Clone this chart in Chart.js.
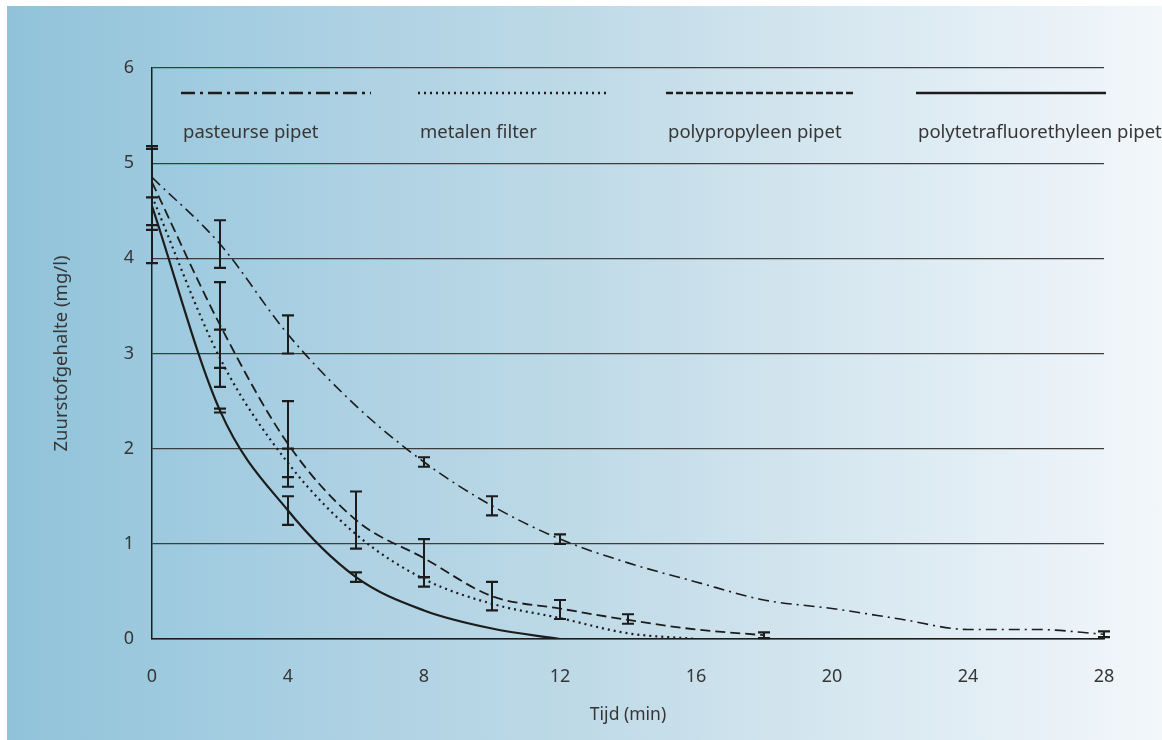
<!DOCTYPE html>
<html lang="nl">

<head>
    <meta charset="UTF-8" />
    <title>Zuurstofgehalte</title>
    <script src="https://cdn.jsdelivr.net/npm/chart.js@4.4.1/dist/chart.umd.min.js"></script>
    <style>
        html, body { margin: 0; padding: 0; background: #ffffff; }
        .panel {
            position: absolute; left: 7px; top: 6px; width: 1155px; height: 734px;
            background: linear-gradient(to right, #90c3da 0%, #a9cfe2 25%, #bfdae7 50%, #d6e7f0 72%, #e8f1f7 90%, #f3f7fa 100%);
        }
        #chart { position: absolute; left: 0; top: 0; }
    </style>
</head>

<body>
    <div class="panel"></div>
    <canvas id="chart" width="1162" height="740"></canvas>

<script>
    // tijd in minuten
    const tPasteur = [0, 2, 4, 6, 8, 10, 12, 14, 16, 18, 20, 22, 24, 26, 28];
    const tMetaal = [0, 2, 4, 6, 8, 10, 12, 14, 16];
    const tPolyprop = [0, 2, 4, 6, 8, 10, 12, 14, 16, 18];
    const tPtfe = [0, 2, 4, 6, 8, 10, 12];

    // zuurstofgehalte (mg/l)
    const pasteurse = [4.85, 4.15, 3.2, 2.45, 1.86, 1.4, 1.05, 0.8, 0.6, 0.41, 0.32, 0.21, 0.1, 0.1, 0.05];
    const metalen = [4.65, 2.95, 1.85, 1.1, 0.63, 0.37, 0.22, 0.06, 0.0];
    const polyprop = [4.8, 3.3, 2.05, 1.25, 0.85, 0.45, 0.32, 0.2, 0.1, 0.04];
    const ptfe = [4.55, 2.4, 1.35, 0.65, 0.3, 0.11, 0.0];

    // foutbalken: [tijd, laag, hoog]
    const errPasteur = [[0, 4.64, 5.18], [2, 3.9, 4.4], [4, 3.0, 3.4], [8, 1.81, 1.91], [10, 1.3, 1.5], [12, 1.0, 1.1], [28, 0.02, 0.08]];
    const errMetaal = [[2, 2.65, 3.25], [4, 1.7, 2.0], [8, 0.55, 0.65]];
    const errPolyprop = [[0, 4.3, 5.15], [2, 2.85, 3.75], [4, 1.6, 2.5], [6, 0.95, 1.55], [8, 0.65, 1.05], [10, 0.3, 0.6], [12, 0.21, 0.41], [14, 0.16, 0.26], [18, 0.01, 0.07]];
    const errPtfe = [[0, 3.95, 4.35], [2, 2.38, 2.42], [4, 1.2, 1.5], [6, 0.6, 0.7]];

    const labels = ['pasteurse pipet', 'metalen filter', 'polypropyleen pipet', 'polytetrafluorethyleen pipet'];
    const xTicks = [0, 4, 8, 12, 16, 20, 24, 28];
    const yTicks = [0, 1, 2, 3, 4, 5, 6];

    const ink = '#1c1c1c';
    const textColor = '#363636';
    const fontFamily = "'Noto Sans', 'Open Sans', sans-serif";

    function pts(ts, vs) {
        return ts.map((t, i) => ({ x: t, y: vs[i] }));
    }

    // dash patronen: grafiek / legenda
    const styles = [
        { dash: [11, 5, 2, 5], legendDash: [14, 5, 3, 5], width: 1.6 },
        { dash: [2, 4], legendDash: [2, 4], width: 2.2 },
        { dash: [10, 5], legendDash: [7, 3], width: 1.8 },
        { dash: [], legendDash: [], width: 2.2 }
    ];

    const series = [pts(tPasteur, pasteurse), pts(tMetaal, metalen), pts(tPolyprop, polyprop), pts(tPtfe, ptfe)];
    const errors = [errPasteur, errMetaal, errPolyprop, errPtfe];

    // foutbalken tekenen
    const errorBars = {
        id: 'errorBars',
        afterDatasetsDraw(chart) {
            const { ctx, scales: { x, y } } = chart;
            ctx.save();
            ctx.strokeStyle = ink;
            ctx.setLineDash([]);
            errors.forEach(list => {
                list.forEach(([t, lo, hi]) => {
                    const px = x.getPixelForValue(t);
                    const yl = y.getPixelForValue(lo);
                    const yh = y.getPixelForValue(hi);
                    ctx.lineWidth = 2;
                    ctx.beginPath();
                    ctx.moveTo(px, yl);
                    ctx.lineTo(px, yh);
                    ctx.stroke();
                    ctx.lineWidth = 2.2;
                    ctx.beginPath();
                    ctx.moveTo(px - 6, yl);
                    ctx.lineTo(px + 6, yl);
                    ctx.moveTo(px - 6, yh);
                    ctx.lineTo(px + 6, yh);
                    ctx.stroke();
                });
            });
            ctx.restore();
        }
    };

    // legenda: lijnstuk met tekst eronder
    const lineLegend = {
        id: 'lineLegend',
        afterDraw(chart) {
            const { ctx } = chart;
            const starts = [181, 418, 666, 916];
            const len = 190;
            ctx.save();
            chart.data.datasets.forEach((ds, i) => {
                const sx = starts[i];
                ctx.strokeStyle = ink;
                ctx.lineWidth = i === 1 ? 2.6 : 2.4;
                ctx.lineCap = 'butt';
                ctx.setLineDash(styles[i].legendDash);
                ctx.beginPath();
                ctx.moveTo(sx, 93);
                ctx.lineTo(sx + len, 93);
                ctx.stroke();
                ctx.setLineDash([]);
                ctx.fillStyle = textColor;
                ctx.font = '18.5px ' + fontFamily;
                ctx.textBaseline = 'middle';
                ctx.textAlign = 'left';
                ctx.fillText(ds.label, sx + 2, 133);
            });
            ctx.restore();
        }
    };

    new Chart(document.getElementById('chart'), {
        type: 'line',
        data: {
            datasets: series.map((data, i) => ({
                label: labels[i],
                data: data,
                borderColor: ink,
                borderWidth: styles[i].width,
                borderDash: styles[i].dash,
                pointRadius: 0,
                fill: false,
                cubicInterpolationMode: 'monotone'
            }))
        },
        options: {
            responsive: false,
            animation: false,
            layout: { padding: { top: 68, right: 58, left: 0, bottom: 0 } },
            plugins: {
                legend: { display: false },
                tooltip: { enabled: false }
            },
            scales: {
                x: {
                    type: 'linear',
                    min: 0,
                    max: 28,
                    afterBuildTicks: (scale) => { scale.ticks = xTicks.map(v => ({ value: v })); },
                    afterFit: (scale) => { scale.height = 101; },
                    grid: { display: false, drawTicks: false },
                    border: { display: true, color: ink, width: 1.5 },
                    ticks: { padding: 27, color: textColor, font: { family: fontFamily, size: 18 } },
                    title: {
                        display: true,
                        text: 'Tijd (min)',
                        color: textColor,
                        font: { family: fontFamily, size: 17.5 },
                        padding: { top: 0, bottom: 14 }
                    }
                },
                y: {
                    min: 0,
                    max: 6,
                    afterBuildTicks: (scale) => { scale.ticks = yTicks.map(v => ({ value: v })); },
                    afterFit: (scale) => { scale.width = 152; },
                    grid: { color: '#3c3c3c', lineWidth: 1.3, drawTicks: false },
                    border: { display: true, color: ink, width: 1.5 },
                    ticks: { padding: 18, color: textColor, font: { family: fontFamily, size: 18 } },
                    title: {
                        display: true,
                        text: 'Zuurstofgehalte (mg/l)',
                        color: textColor,
                        font: { family: fontFamily, size: 18.5 },
                        padding: { top: 51, bottom: 0 }
                    }
                }
            }
        },
        plugins: [errorBars, lineLegend]
    });
</script>
</body>

</html>
